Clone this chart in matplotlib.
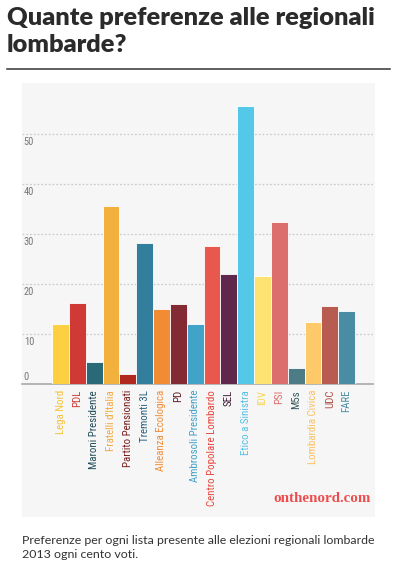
import matplotlib
matplotlib.use('Agg')
import matplotlib.pyplot as plt
from matplotlib import font_manager
from matplotlib.patches import Rectangle

# data
parties = ['Lega Nord', 'PDL', 'Maroni Presidente', "Fratelli d'Italia", 'Partito Pensionati',
           'Tremonti 3L', 'Alleanza Ecologica', 'PD', 'Ambrosoli Presidente',
           'Centro Popolare Lombardo', 'SEL', 'Etico a Sinistra', 'IDV', 'PSI', 'M5s',
           'Lombardia Civica', 'UDC', 'FARE']
values = [12.1, 16.3, 4.4, 35.6, 2.0, 28.3, 15.1, 16.1, 12.1,
          27.7, 22.0, 55.6, 21.7, 32.5, 3.3, 12.5, 15.6, 14.7]
bar_colors = ['#fdd043', '#cf3a36', '#2a6a78', '#f2b03c', '#b0281e', '#327e9c',
              '#f18c35', '#832a32', '#42a3c8', '#e8584c', '#60264c', '#54c8e8',
              '#fee272', '#dc6f6d', '#4e7c86', '#fec969', '#b85c52', '#4b8ca5']
label_colors = ['#f5c232', '#cf3a36', '#1f4a56', '#f2a93c', '#7a1c1c', '#2b5f7c',
                '#f18c35', '#5e1c26', '#42a0c8', '#e8483e', '#3d1a35', '#54c0e4',
                '#f8d84a', '#dc6f6d', '#34545c', '#fdc15e', '#b0524a', '#4b8ca5']
yticks = [0, 10, 20, 30, 40, 50]
title = 'Quante preferenze alle regionali\nlombarde?'
caption_1 = 'Preferenze per ogni lista presente alle elezioni regionali lombarde'
caption_2 = '2013 ogni cento voti.'

W, H = 398, 567
installed = {f.name for f in font_manager.fontManager.ttflist}


def pick(*names):
    for n in names:
        if n in installed:
            return n
    return 'DejaVu Sans'


narrow = pick('Liberation Sans Narrow', 'Roboto Condensed', 'DejaVu Sans')
title_font = pick('Lato', 'Open Sans', 'DejaVu Sans')
body_font = pick('Lato', 'Open Sans', 'DejaVu Sans')


def fx(px):
    return px / W


def fy(py):
    return 1 - py / H


fig = plt.figure(figsize=(W / 100, H / 100), dpi=100)
fig.patch.set_facecolor('white')

# title and rule
fig.text(fx(7), fy(7), title, ha='left', va='top', fontsize=18.3, fontweight='heavy',
         family=title_font, color='#2b2b2b', linespacing=1.25)
fig.add_artist(plt.Line2D([fx(7), fx(390)], [fy(69), fy(69)], color='#333333', lw=1.1))

# light panel behind the chart
fig.add_artist(Rectangle((fx(22), fy(517)), fx(375) - fx(22), fy(83) - fy(517),
                         transform=fig.transFigure, facecolor='#f6f6f6', edgecolor='none',
                         zorder=0))

ax = fig.add_axes([fx(22), fy(384), fx(373) - fx(22), fy(84) - fy(384)])
ax.patch.set_alpha(0)
x = list(range(len(parties)))
ax.bar(x, values, width=1.0, color=bar_colors, edgecolor='#ffffff', linewidth=0.6, zorder=3)
ax.set_xlim(-2.29, 18.57)
ax.set_ylim(0, 60)

for t in yticks[1:]:
    ax.axhline(t, color='#cccccc', lw=0.9, ls=(0, (1.5, 1.5)), zorder=1)
    ax.text(0.005, t - 0.6, str(t), transform=ax.get_yaxis_transform(), ha='left', va='top',
            fontsize=7.5, family=narrow, color='#777777')
ax.text(0.005, 0.5, '0', transform=ax.get_yaxis_transform(), ha='left', va='bottom',
        fontsize=7.5, family=narrow, color='#777777')

ax.set_xticks([])
ax.set_yticks([])
for s in ['top', 'right', 'left']:
    ax.spines[s].set_visible(False)
ax.spines['bottom'].set_color('#aaaaaa')
ax.spines['bottom'].set_linewidth(1.2)

for xi, name, c in zip(x, parties, label_colors):
    ax.text(xi, -1.2, name, rotation=90, ha='center', va='top', fontsize=7.8,
            family=narrow, color=c)

# watermark
fig.text(fx(371), fy(499), 'onthenord.com', ha='right', va='center', fontsize=10.8,
         fontweight='bold', family=pick('Liberation Serif', 'DejaVu Serif'), color='#ee4d4d')

# caption
fig.text(fx(22), fy(540), caption_1, ha='left', va='center', fontsize=8.9,
         family=body_font, color='#333333')
fig.text(fx(22), fy(555), caption_2, ha='left', va='center', fontsize=8.9,
         family=body_font, color='#333333')

fig.savefig('out.png', dpi=100)
